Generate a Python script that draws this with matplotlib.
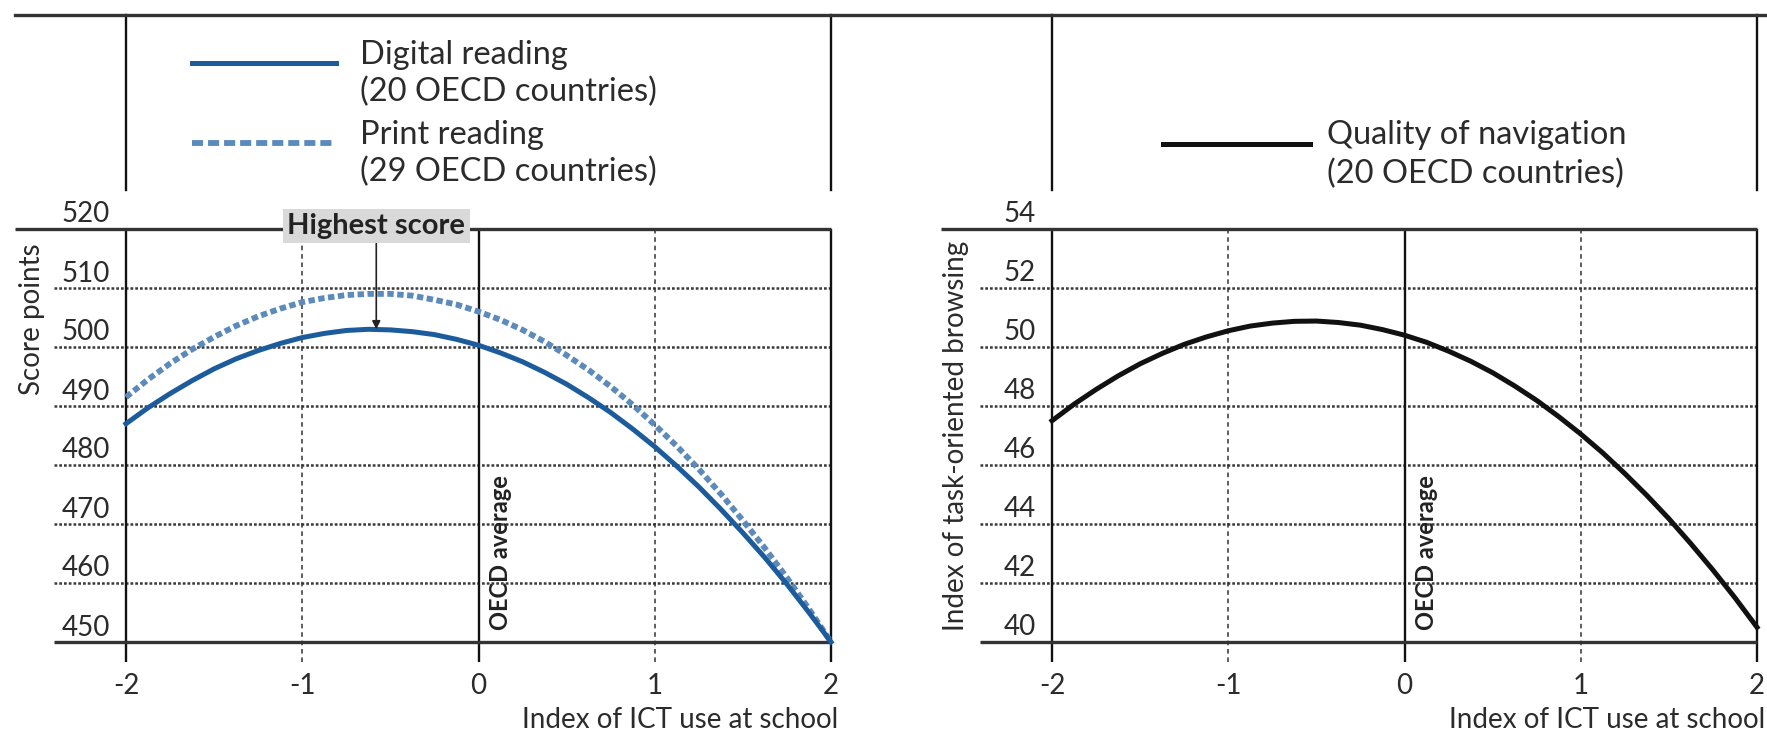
import numpy as np
import matplotlib
matplotlib.use('Agg')
import matplotlib.pyplot as plt
from matplotlib.lines import Line2D
import matplotlib.transforms as mtransforms

plt.rcParams['font.family'] = ['Lato', 'DejaVu Sans']
plt.rcParams['axes.unicode_minus'] = False

# ---------------- data ----------------
x_index = [-2.0, -1.875, -1.75, -1.625, -1.5, -1.375, -1.25, -1.125, -1.0,
           -0.875, -0.75, -0.625, -0.5, -0.375, -0.25, -0.125, 0.0,
           0.125, 0.25, 0.375, 0.5, 0.625, 0.75, 0.875, 1.0,
           1.125, 1.25, 1.375, 1.5, 1.625, 1.75, 1.875, 2.0]
digital_reading = [487.0, 489.7, 492.1, 494.3, 496.3, 498.0, 499.4, 500.6, 501.6,
                   502.3, 502.8, 503.0, 502.9, 502.6, 502.1, 501.3, 500.3,
                   499.0, 497.5, 495.7, 493.7, 491.4, 488.9, 486.1, 483.1,
                   479.8, 476.3, 472.5, 468.5, 464.3, 459.8, 455.0, 450.0]
print_reading = [491.5, 494.5, 497.2, 499.6, 501.7, 503.6, 505.2, 506.5, 507.6,
                 508.3, 508.8, 509.0, 509.0, 508.7, 508.0, 507.2, 506.0,
                 504.6, 502.9, 500.9, 498.6, 496.1, 493.3, 490.2, 486.8,
                 483.2, 479.3, 475.1, 470.6, 465.9, 460.9, 455.6, 450.0]
navigation_quality = [47.5, 48.06, 48.56, 49.02, 49.43, 49.78, 50.09, 50.34, 50.55,
                      50.71, 50.81, 50.87, 50.88, 50.83, 50.74, 50.59, 50.4,
                      50.16, 49.86, 49.52, 49.13, 48.68, 48.19, 47.64, 47.05,
                      46.41, 45.71, 44.97, 44.18, 43.33, 42.44, 41.50, 40.5]

x_ticks = [-2, -1, 0, 1, 2]
x_tick_labels = ['-2', '-1', '0', '1', '2']
left_yticks = [450, 460, 470, 480, 490, 500, 510, 520]
right_yticks = [40, 42, 44, 46, 48, 50, 52, 54]

highest_score_x = -0.58
highest_score_y = 503.0

digital_label = ['Digital reading', '(20 OECD countries)']
print_label = ['Print reading', '(29 OECD countries)']
nav_label = ['Quality of navigation', '(20 OECD countries)']

# ---------------- figure ----------------
W, H = 1767, 738
fig = plt.figure(figsize=(W / 100, H / 100), dpi=100)
fig.patch.set_facecolor('white')

TXT = '#2b2b2b'
LINE = '#333333'


def px_axes(x0, ytop, x1, ybot):
    return fig.add_axes([x0 / W, 1 - ybot / H, (x1 - x0) / W, (ybot - ytop) / H])


axL = px_axes(126, 229, 831, 642)
axR = px_axes(1052, 229, 1757, 642)


def style_axes(ax, yticks, ylabel, ylab_xy, xlab_x):
    ax.set_xlim(-2, 2)
    ax.set_ylim(yticks[0], yticks[-1])
    ax.patch.set_visible(False)
    for s in ax.spines.values():
        s.set_visible(False)
    ax.set_xticks(x_ticks)
    ax.set_xticklabels(x_tick_labels)
    ax.set_yticks(yticks)
    ax.set_yticklabels([str(v) for v in yticks])
    ax.tick_params(axis='both', length=0, labelsize=20, labelcolor=TXT)
    ax.tick_params(axis='y', pad=11.5)
    ax.tick_params(axis='x', pad=22)
    off = mtransforms.ScaledTranslation(0, 17 / 100, fig.dpi_scale_trans)
    for lab in ax.get_yticklabels():
        lab.set_transform(lab.get_transform() + off)

    tr_h = mtransforms.blended_transform_factory(ax.transAxes, ax.transData)
    ext_grid = -72 / 705
    ext_top = -111 / 705
    for v in yticks[1:-1]:
        ax.plot([ext_grid, 1], [v, v], transform=tr_h, color='#3a3a3a', lw=1.8,
                ls=(0, (1.1, 0.8)), clip_on=False, zorder=1)
    ax.plot([ext_grid, 1], [yticks[0]] * 2, transform=tr_h, color=LINE, lw=2.4,
            clip_on=False, solid_capstyle='butt', zorder=3)
    ax.plot([ext_top, 1], [yticks[-1]] * 2, transform=tr_h, color=LINE, lw=2.4,
            clip_on=False, solid_capstyle='butt', zorder=3)

    tr_v = mtransforms.blended_transform_factory(ax.transData, ax.transAxes)
    tick_ext = -20 / 413
    for v in x_ticks:
        if v in (-1, 1):
            ax.plot([v, v], [tick_ext, 1], transform=tr_v, color='#333333', lw=1.1,
                    ls=(0, (3, 2.5)), clip_on=False, zorder=1)
        else:
            ax.plot([v, v], [tick_ext, 1], transform=tr_v, color='#111111', lw=1.7,
                    clip_on=False, zorder=2, solid_capstyle='butt')
    # header verticals
    tr_hv = mtransforms.blended_transform_factory(ax.transData, fig.transFigure)
    for v in (x_ticks[0], x_ticks[-1]):
        fig.add_artist(Line2D([v, v], [1 - 190 / H, 1 - 15 / H], transform=tr_hv,
                              color='#111111', lw=1.7))

    ax.set_ylabel(ylabel, fontsize=20, color=TXT, va='center')
    ax.yaxis.set_label_coords(*ylab_xy)
    ax.set_xlabel('Index of ICT use at school', fontsize=20, color=TXT,
                  ha='right', va='center')
    ax.xaxis.set_label_coords(xlab_x, (642 - 720) / 413)

    ax.annotate('OECD average', xy=(0, yticks[0]), xycoords='data',
                xytext=(22, 12), textcoords='offset pixels', rotation=90,
                ha='center', va='bottom', fontsize=17, fontweight='bold',
                color='#222222')


style_axes(axL, left_yticks, 'Score points',
           ((32 - 126) / 705, (642 - 319) / 413), (838 - 126) / 705)
style_axes(axR, right_yticks, 'Index of task-oriented browsing',
           ((956 - 1052) / 705, (642 - 436) / 413), (1765 - 1052) / 705)

# top header rule
fig.add_artist(Line2D([15 / W, 1], [1 - 15 / H] * 2, transform=fig.transFigure,
                      color=LINE, lw=2.4))

# curves
print_style = dict(color='#5b8abb', lw=4.2, ls=(0, (1.1, 0.6)))
print_legend_style = dict(color='#5b8abb', lw=4.2, ls=(0, (1.9, 0.85)))
digital_style = dict(color='#1d5c9c', lw=3.6)
nav_style = dict(color='#111111', lw=3.6)
axL.plot(x_index, print_reading, zorder=4, clip_on=False, **print_style)
axL.plot(x_index, digital_reading, zorder=5, clip_on=False, **digital_style)
axR.plot(x_index, navigation_quality, zorder=5, clip_on=False, **nav_style)

# highest score annotation
axL.annotate('Highest score', xy=(highest_score_x, highest_score_y),
             xytext=(highest_score_x, 520.5), textcoords='data',
             ha='center', va='center', fontsize=21, fontweight='bold', color='#222222',
             bbox=dict(boxstyle='square,pad=0.15', fc='#d9d9d9', ec='none'),
             arrowprops=dict(arrowstyle='-|>', color='#222222', lw=1.2,
                             mutation_scale=12, shrinkA=0, shrinkB=0),
             zorder=10, annotation_clip=False)


# legends (header band), positions in pixels
def legend_entry(x0, x1, y_line, x_text, lines, style, y_first, dy):
    fig.add_artist(Line2D([x0 / W, x1 / W], [1 - y_line / H] * 2,
                          transform=fig.transFigure, **style))
    for i, s in enumerate(lines):
        fig.text(x_text / W, 1 - (y_first + i * dy) / H, s, fontsize=23.5,
                 color=TXT, ha='left', va='baseline')


legend_entry(192, 336, 63, 360, digital_label, digital_style, 64, 37)
legend_entry(192, 336, 143, 360, print_label, print_legend_style, 144, 37)
legend_entry(1163, 1310, 144, 1327, nav_label, nav_style, 144, 39)

fig.savefig('out.png', dpi=100, facecolor='white')
